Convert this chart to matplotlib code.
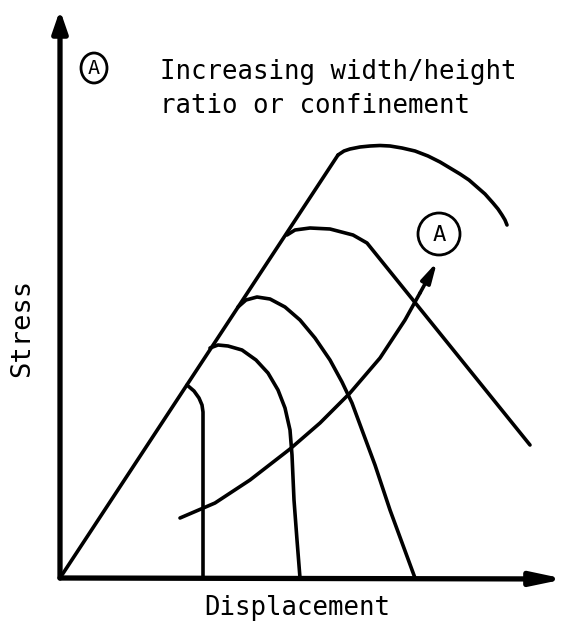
import numpy as np
import matplotlib
matplotlib.use("Agg")
from matplotlib import pyplot as plt
from matplotlib.patches import Ellipse

# schematic stress-displacement curves (arbitrary units, origin at the axes corner)
elastic_x = [0, 278]
elastic_y = [0, 423]

c1_x = [127, 134, 139, 142, 143, 143]
c1_y = [193, 187, 180, 173, 166, 0]

c2_x = [150, 158, 168, 182, 196, 208, 218, 225, 230, 232, 234, 237, 240]
c2_y = [230, 233, 232, 228, 218, 205, 188, 170, 148, 123, 78, 38, 0]

c3_x = [178, 186, 197, 210, 225, 240, 255, 270, 282, 292, 302, 315, 330, 355]
c3_y = [271, 278, 281, 279, 271, 258, 240, 218, 196, 175, 148, 113, 68, 0]

c4_x = [227, 235, 250, 270, 293, 307, 470]
c4_y = [343, 348, 350, 349, 343, 335, 133]

c5_x = [278, 284, 290, 300, 310, 320, 330, 342, 355, 368, 380, 390, 400, 409, 417, 425, 433, 438, 442, 445, 447]
c5_y = [423, 427, 429, 431, 432, 432.5, 432, 430, 427, 422, 416, 410, 404, 398, 391, 384, 375, 369, 363, 358, 353]

# trend arrow "A"
trend_x = [120, 155, 190, 230, 260, 290, 320, 345, 360, 377]
trend_y = [60, 75, 98, 129, 155, 185, 220, 258, 285, 316]

mono = "DejaVu Sans Mono"
lw = 2.6

fig = plt.figure(figsize=(5.65, 6.26), dpi=100)
ax = fig.add_axes([0, 0, 1, 1])
ax.set_xlim(-60, 505)
ax.set_ylim(-48, 578)
ax.axis("off")

# axes with arrow heads
ax.annotate("", xy=(0, 568), xytext=(0, 0),
            arrowprops=dict(arrowstyle="-|>,head_length=1.3,head_width=0.45",
                            lw=3.8, color="black", shrinkA=0, shrinkB=0))
ax.annotate("", xy=(505, -1), xytext=(0, 0),
            arrowprops=dict(arrowstyle="-|>,head_length=1.9,head_width=0.4",
                            lw=3.8, color="black", shrinkA=0, shrinkB=0))

ax.plot(elastic_x, elastic_y, color="black", lw=lw, solid_capstyle="round")
for xs, ys in [(c1_x, c1_y), (c2_x, c2_y), (c3_x, c3_y), (c4_x, c4_y), (c5_x, c5_y)]:
    ax.plot(xs, ys, color="black", lw=lw, solid_joinstyle="round",
            solid_capstyle="round")

ax.plot(trend_x[:-1], trend_y[:-1], color="black", lw=lw,
        solid_joinstyle="round", solid_capstyle="round")
ax.annotate("", xy=(trend_x[-1], trend_y[-1]), xytext=(trend_x[-2], trend_y[-2]),
            arrowprops=dict(arrowstyle="-|>,head_length=1.2,head_width=0.3",
                            lw=lw, color="black", shrinkA=0, shrinkB=0))

# circled labels
ax.add_patch(Ellipse((379, 344), 42, 42, fill=False, lw=2.0, color="black"))
ax.text(379, 343, "A", ha="center", va="center", fontsize=16, family=mono)
ax.add_patch(Ellipse((34, 510), 26, 30, fill=False, lw=2.0, color="black"))
ax.text(34, 509, "A", ha="center", va="center", fontsize=14.5, family=mono)

ax.text(100, 489, "Increasing width/height\nratio or confinement",
        ha="left", va="center", fontsize=18.5, family=mono, linespacing=1.4)

ax.text(237, -30, "Displacement", ha="center", va="center", fontsize=18.5,
        family=mono)
ax.text(-38, 250, "Stress", ha="center", va="center", rotation=90,
        fontsize=19.5, family=mono)

fig.savefig("out.png", dpi=100)
